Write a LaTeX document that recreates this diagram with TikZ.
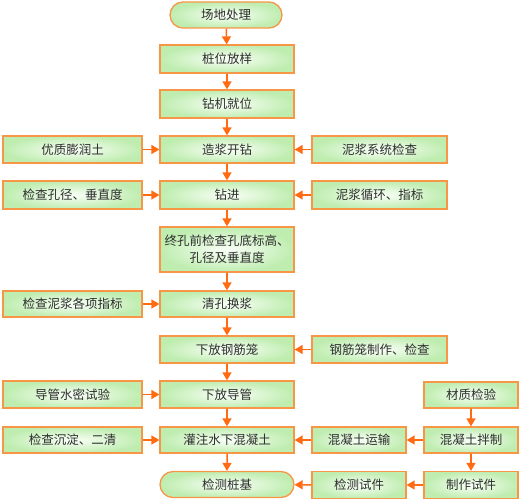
\documentclass[tikz,border=0pt]{standalone}
\usepackage{fontspec}
\setmainfont{Noto Sans CJK SC}
\usetikzlibrary{arrows.meta,shapes.misc}
\definecolor{bord}{HTML}{F79646}
\definecolor{arrc}{HTML}{FF6A13}
\definecolor{gin}{HTML}{FAFFF8}
\definecolor{gout}{HTML}{BFEDB0}
\definecolor{txt}{HTML}{2E2E2E}
\begin{document}
\begin{tikzpicture}[x=1pt,y=-1pt,
  box/.style={draw=bord,line width=1.3pt,inner color=gin,outer color=gout,
    rectangle,minimum height=27pt,inner sep=0pt,align=center,
    font=\fontsize{12.5}{17}\selectfont,text=txt},
  cbox/.style={box,minimum width=134pt},
  lbox/.style={box,minimum width=139pt},
  rbox/.style={box,minimum width=135pt},
  fbox/.style={box,minimum width=94pt},
  term/.style={box,rounded rectangle},
  flow/.style={draw=arrc,line width=1.5pt,-{Triangle[width=9pt,length=8pt]}}]
\useasboundingbox (0,0) rectangle (521,500);
% center column
\node[term,minimum width=112pt,minimum height=26pt] (c1) at (226,15) {场地处理};
\node[cbox,minimum height=28pt] (c2) at (227,59) {桩位放样};
\node[cbox,minimum height=28pt] (c3) at (227,104) {钻机就位};
\node[cbox] (c4) at (227,149.5) {造浆开钻};
\node[cbox,minimum height=28pt] (c5) at (227,195) {钻进};
\node[cbox,minimum height=45pt] (c6) at (227,249.5) {终孔前检查孔底标高、\\孔径及垂直度};
\node[cbox,minimum height=26pt] (c7) at (227,304) {清孔换浆};
\node[cbox] (c8) at (227,349.5) {下放钢筋笼};
\node[cbox] (c9) at (227,394.5) {下放导管};
\node[cbox,minimum height=26pt] (c10) at (227,440) {灌注水下混凝土};
\node[term,minimum width=134pt,minimum height=26pt] (c11) at (227,484.5) {检测桩基};
% left column
\node[lbox] (l4) at (72.5,149.5) {优质膨润土};
\node[lbox,minimum height=28pt] (l5) at (72.5,195) {检查孔径、垂直度};
\node[lbox,minimum height=26pt] (l7) at (72.5,304) {检查泥浆各项指标};
\node[lbox] (l9) at (72.5,394.5) {导管水密试验};
\node[lbox,minimum height=26pt] (l10) at (72.5,440) {检查沉淀、二清};
% right column
\node[rbox] (r4) at (379.5,149.5) {泥浆系统检查};
\node[rbox,minimum height=28pt] (r5) at (379.5,195) {泥浆循环、指标};
\node[rbox] (r8) at (379.5,349.5) {钢筋笼制作、检查};
\node[fbox,minimum height=26pt] (r10) at (359,440) {混凝土运输};
\node[fbox] (r11) at (359,485) {检测试件};
% far right column
\node[fbox,minimum height=26pt] (f9) at (471,395) {材质检验};
\node[fbox,minimum height=26pt] (f10) at (471,440) {混凝土拌制};
\node[fbox] (f11) at (471,485) {制作试件};
% main flow
\draw[flow] (c1) -- (c2);
\draw[flow] (c2) -- (c3);
\draw[flow] (c3) -- (c4);
\draw[flow] (c4) -- (c5);
\draw[flow] (c5) -- (c6);
\draw[flow] (c6) -- (c7);
\draw[flow] (c7) -- (c8);
\draw[flow] (c8) -- (c9);
\draw[flow] (c9) -- (c10);
\draw[flow] (c10) -- (c11);
% side inputs
\draw[flow] (l4) -- (c4);
\draw[flow] (l5) -- (c5);
\draw[flow] (l7) -- (c7);
\draw[flow] (l9) -- (c9);
\draw[flow] (l10) -- (c10);
\draw[flow] (r4) -- (c4);
\draw[flow] (r5) -- (c5);
\draw[flow] (r8) -- (c8);
\draw[flow] (r10) -- (c10);
\draw[flow] (r11) -- (c11);
\draw[flow] (f9) -- (f10);
\draw[flow] (f10) -- (f11);
\draw[flow] (f10) -- (r10);
\draw[flow] (f11) -- (r11);
\end{tikzpicture}
\end{document}
